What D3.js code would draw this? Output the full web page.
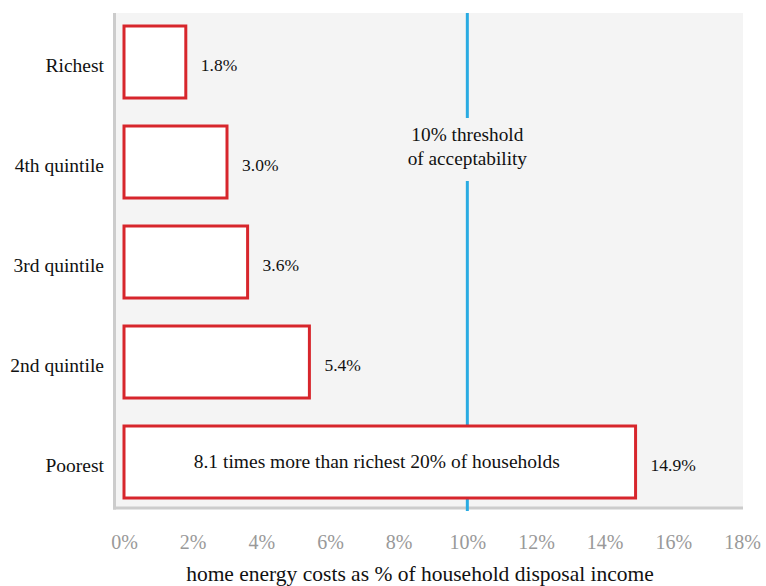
<!DOCTYPE html>
<html>
<head>
<meta charset="utf-8">
<script src="https://cdn.jsdelivr.net/npm/d3@7"></script>
<style>
  html, body { margin: 0; padding: 0; background: #ffffff; }
  text { font-family: "Liberation Serif", "Times New Roman", Times, serif; }
</style>
</head>
<body>
<svg id="chart" width="766" height="586"></svg>
<script>
// Home energy costs by income quintile
const categories = ["Richest", "4th quintile", "3rd quintile", "2nd quintile", "Poorest"];
const shares = [1.8, 3.0, 3.6, 5.4, 14.9];
const valueLabels = ["1.8%", "3.0%", "3.6%", "5.4%", "14.9%"];
const xTicks = [0, 2, 4, 6, 8, 10, 12, 14, 16, 18];
const threshold = 10;
const thresholdLines = ["10% threshold", "of acceptability"];
const poorestNote = "8.1 times more than richest 20% of households";
const xTitle = "home energy costs as % of household disposal income";

const FONT = "'Liberation Serif', 'Times New Roman', Times, serif";

const svg = d3.select("#chart").attr("font-family", FONT);
const plot = { left: 113, right: 743, top: 13, bottom: 508 };

const x = d3.scaleLinear().domain([0, 18]).range([124, 742]);
const y = d3.scaleBand()
  .domain(categories)
  .range([12, 512])
  .paddingInner(0.28)
  .paddingOuter(0.14);

// plot background
svg.append("rect")
  .attr("x", plot.left).attr("y", plot.top)
  .attr("width", plot.right - plot.left).attr("height", plot.bottom - plot.top)
  .attr("fill", "#f4f4f4");

// left and bottom frame lines
svg.append("line")
  .attr("x1", plot.left + 1.5).attr("x2", plot.left + 1.5)
  .attr("y1", plot.top).attr("y2", plot.bottom + 1.5)
  .attr("stroke", "#cccccc").attr("stroke-width", 3);
svg.append("line")
  .attr("x1", plot.left).attr("x2", plot.right)
  .attr("y1", plot.bottom).attr("y2", plot.bottom)
  .attr("stroke", "#cccccc").attr("stroke-width", 3);

// threshold line, broken around its caption
const tx = x(threshold);
const gapTop = 118, gapBottom = 181;
svg.append("line")
  .attr("x1", tx).attr("x2", tx)
  .attr("y1", plot.top).attr("y2", gapTop)
  .attr("stroke", "#29abe2").attr("stroke-width", 3);
svg.append("line")
  .attr("x1", tx).attr("x2", tx)
  .attr("y1", gapBottom).attr("y2", plot.bottom + 3)
  .attr("stroke", "#29abe2").attr("stroke-width", 3);

svg.append("text")
  .attr("x", tx).attr("y", 141)
  .attr("text-anchor", "middle")
  .attr("font-family", FONT)
  .attr("font-size", "19.3px").attr("fill", "#111")
  .selectAll("tspan").data(thresholdLines).join("tspan")
  .attr("x", tx).attr("dy", (d, i) => i === 0 ? 0 : 23.5)
  .text(d => d);

// bars
const rows = categories.map((c, i) => ({ cat: c, v: shares[i], label: valueLabels[i] }));

svg.append("g").selectAll("rect").data(rows).join("rect")
  .attr("x", x(0))
  .attr("y", d => y(d.cat))
  .attr("width", d => x(d.v) - x(0))
  .attr("height", y.bandwidth())
  .attr("fill", "#ffffff")
  .attr("stroke", "#d7262c")
  .attr("stroke-width", 3);

// value labels
svg.append("g").selectAll("text").data(rows).join("text")
  .attr("x", d => x(d.v) + 15)
  .attr("y", d => y(d.cat) + y.bandwidth() / 2 + 9)
  .attr("font-family", FONT)
  .attr("font-size", "17.5px").attr("fill", "#111")
  .text(d => d.label);

// category labels
svg.append("g").selectAll("text").data(categories).join("text")
  .attr("x", 104)
  .attr("y", d => y(d) + y.bandwidth() / 2 + 10)
  .attr("text-anchor", "end")
  .attr("font-family", FONT)
  .attr("font-size", "19.5px").attr("fill", "#111")
  .text(d => d);

// note inside the poorest bar
const poorest = rows[rows.length - 1];
svg.append("text")
  .attr("x", (x(0) + x(poorest.v)) / 2 - 3)
  .attr("y", y(poorest.cat) + y.bandwidth() / 2 + 5.5)
  .attr("text-anchor", "middle")
  .attr("font-family", FONT)
  .attr("font-size", "19.5px").attr("fill", "#111")
  .text(poorestNote);

// x axis tick labels
const axis = d3.axisBottom(x)
  .tickValues(xTicks)
  .tickSize(0)
  .tickPadding(0)
  .tickFormat(d => d + "%");
const gx = svg.append("g")
  .attr("transform", "translate(0,534)")
  .call(axis)
  .attr("font-family", FONT)
  .attr("font-size", "20px");
gx.select(".domain").remove();
gx.selectAll("text")
  .attr("fill", "#999999")
  .attr("dy", "0.75em");

// x axis title
svg.append("text")
  .attr("x", 420).attr("y", 581)
  .attr("text-anchor", "middle")
  .attr("font-family", FONT)
  .attr("font-size", "21.5px").attr("fill", "#111")
  .text(xTitle);
</script>
</body>
</html>
